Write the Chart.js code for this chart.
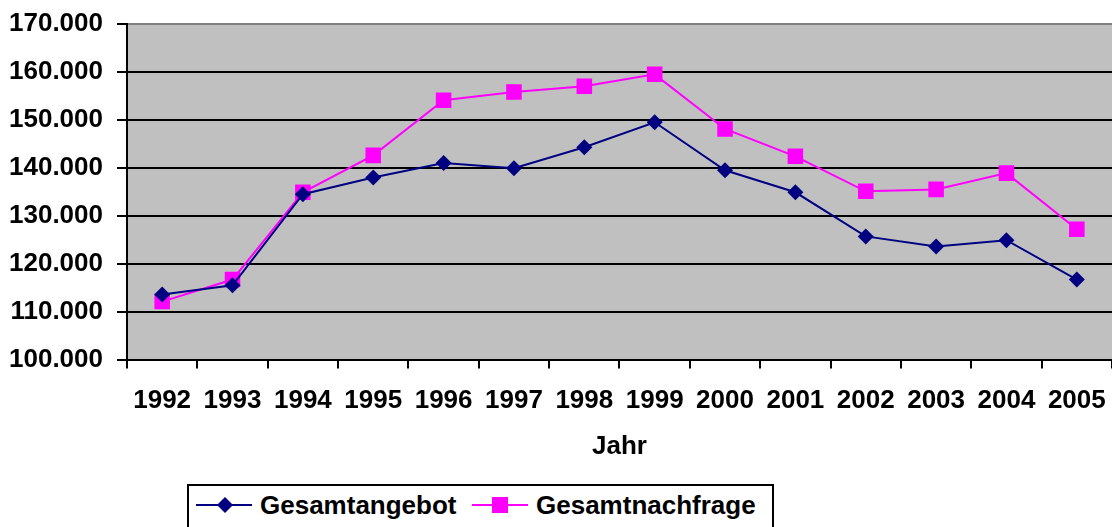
<!DOCTYPE html>
<html>
<head>
<meta charset="utf-8">
<script src="https://cdn.jsdelivr.net/npm/chart.js@4.4.0/dist/chart.umd.min.js"></script>
<style>
  html, body { margin: 0; padding: 0; background: #fff; }
  #wrap { position: relative; width: 1112px; height: 527px; overflow: hidden; }
  #legend {
    position: absolute; left: 187px; top: 484px; width: 587px; height: 60px;
    border: 2px solid #000; box-sizing: border-box; background: #fff;
    font: bold 26px "Liberation Sans", Arial, sans-serif; color: #000;
  }
  .item { position: absolute; top: 4px; height: 30px; display: flex; align-items: center; }
  .item svg { margin-right: 8px; }
</style>
</head>
<body>
<div id="wrap">
  <canvas id="myChart" width="1112" height="527"></canvas>
  <div id="legend">
    <div class="item" style="left:7px">
      <svg width="56" height="20"><line x1="0" y1="10" x2="56" y2="10" stroke="#000080" stroke-width="2"/><polygon points="29,2 37,10 29,18 21,10" fill="#000080"/></svg>
      <span>Gesamtangebot</span>
    </div>
    <div class="item" style="left:283px">
      <svg width="56" height="20"><line x1="0" y1="10" x2="56" y2="10" stroke="#FF00FF" stroke-width="2"/><rect x="20" y="2" width="16" height="16" fill="#FF00FF"/></svg>
      <span>Gesamtnachfrage</span>
    </div>
  </div>
</div>
<script>
const years = ['1992','1993','1994','1995','1996','1997','1998','1999','2000','2001','2002','2003','2004','2005'];
const angebot = [113600,115500,134500,138000,141000,139900,144300,149500,139500,134900,125700,123600,124900,116700];
const nachfrage = [112100,116700,134900,142600,154100,155800,157000,159500,148100,142400,135100,135500,138900,127200];

const font = { family: '"Liberation Sans", Arial, sans-serif', size: 26, weight: 'bold' };

const plotBg = {
  id: 'plotBg',
  beforeDraw(chart) {
    const a = chart.chartArea;
    chart.ctx.save();
    chart.ctx.fillStyle = '#C0C0C0';
    chart.ctx.fillRect(a.left, a.top, a.right - a.left, a.bottom - a.top);
    chart.ctx.restore();
  }
};

const ctx = document.getElementById('myChart');
new Chart(ctx, {
  type: 'line',
  data: {
    labels: years,
    datasets: [{
      label: 'Gesamtangebot',
      data: angebot,
      borderColor: '#000080',
      backgroundColor: '#000080',
      borderWidth: 2,
      pointStyle: 'rectRot',
      pointRadius: 8,
      pointBorderWidth: 0,
      tension: 0
    }, {
      label: 'Gesamtnachfrage',
      data: nachfrage,
      borderColor: '#FF00FF',
      backgroundColor: '#FF00FF',
      borderWidth: 2,
      pointStyle: 'rect',
      pointRadius: 11,
      pointBorderWidth: 0,
      tension: 0
    }]
  },
  options: {
    responsive: false,
    animation: false,
    layout: { autoPadding: false, padding: { left: 9, right: 0, top: 24, bottom: 65 } },
    plugins: {
      legend: { display: false },
      tooltip: { enabled: false }
    },
    scales: {
      x: {
        offset: true,
        grid: { offset: true, drawOnChartArea: false, color: '#000', lineWidth: 2, tickLength: 9 },
        border: { color: '#000', width: 2 },
        ticks: { color: '#000', font: font, padding: 17, maxRotation: 0, autoSkip: false },
        title: { display: true, text: 'Jahr', color: '#000', font: font, padding: { top: -3, bottom: 0 } },
        afterFit: s => { s.paddingLeft = 0; s.paddingRight = 0; }
      },
      y: {
        min: 100000,
        max: 170000,
        grid: {
          color: c => c.tick && c.tick.value === 170000 ? '#808080' : '#000',
          tickColor: '#000',
          lineWidth: 2,
          tickLength: 10
        },
        border: { color: '#000', width: 2 },
        ticks: {
          stepSize: 10000,
          color: '#000',
          font: font,
          padding: 14,
          callback: v => v.toLocaleString('de-DE')
        },
        afterFit: s => { s.width -= 14; s.paddingTop = 0; s.paddingBottom = 0; }
      }
    }
  },
  plugins: [plotBg]
});
</script>
</body>
</html>
